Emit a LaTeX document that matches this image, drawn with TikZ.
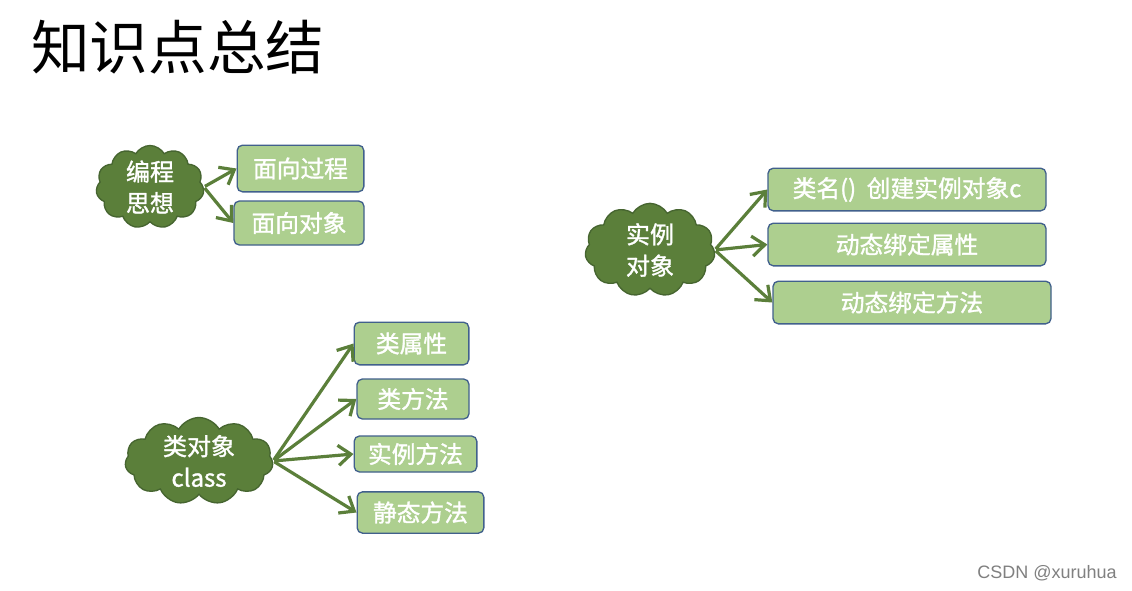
\documentclass[tikz,border=0pt]{standalone}
\usepackage{fontspec}
\setmainfont{Liberation Sans}
\newfontfamily\cjk{Noto Sans CJK SC}
\newfontfamily\cjkmed{Noto Sans CJK SC}[FakeBold=1.3]
\usetikzlibrary{shapes.symbols,arrows.meta}
\definecolor{cloudfill}{HTML}{5B7F3A}
\definecolor{cloudline}{HTML}{466530}
\definecolor{boxfill}{HTML}{ADCF8F}
\definecolor{boxline}{HTML}{41608C}
\definecolor{arrowgreen}{HTML}{5B7F3A}
\tikzset{
  idea/.style={cloud, cloud puffs=11, cloud puff arc=120, cloud ignores aspect,
    draw=cloudline, line width=1pt, fill=cloudfill, text=white,
    font=\cjkmed\fontsize{18pt}{23.5pt}\selectfont, align=center, inner sep=0pt},
  item/.style={draw=boxline, line width=1pt, fill=boxfill, rounded corners=4pt,
    text=white, font=\cjkmed\fontsize{17.8pt}{20pt}\selectfont, inner sep=0pt},
  link/.style={draw=arrowgreen, line width=2.4pt,
    -{Straight Barb[length=9.5pt,width=15pt,line width=2.4pt]}, shorten <=1pt},
}
\begin{document}
\begin{tikzpicture}[x=0.75pt,y=-0.75pt]
\fill[white] (0,0) rectangle (1132,590);
\useasboundingbox (0,0) rectangle (1132,590);

\node[font=\cjk\fontsize{44pt}{50pt}\selectfont, anchor=west, inner sep=0pt] (title) at (31,47) {知识点总结};

% group 1
\node[idea, minimum width=81pt, minimum height=62pt] (c1) at (150,187) {编程\\思想};
\node[item, minimum width=95pt, minimum height=35pt] (b11) at (300.5,168.5) {面向过程};
\node[item, minimum width=97.5pt, minimum height=33pt] (b12) at (299,223) {面向对象};
\draw[link] (c1.east) -- (b11.west);
\draw[link] (c1.east) -- (b12.west);

% group 2
\node[idea, minimum width=97.5pt, minimum height=70pt] (c2) at (650,250) {实例\\对象};
\node[item, minimum width=208.5pt, minimum height=32pt] (b21) at (907,189.5) {类名()\ \ 创建实例对象c};
\node[item, minimum width=208.5pt, minimum height=32pt] (b22) at (907,244.5) {动态绑定属性};
\node[item, minimum width=208.5pt, minimum height=32pt] (b23) at (912,302.5) {动态绑定方法};
\draw[link] (c2.east) -- (b21.west);
\draw[link] (c2.east) -- (b22.west);
\draw[link] (c2.east) -- (b23.west);

% group 3
\node[idea, minimum width=111pt, minimum height=65pt] (c3) at (199,461) {类对象\\class};
\node[item, minimum width=86pt, minimum height=32pt] (b31) at (411.5,343.5) {类属性};
\node[item, minimum width=84pt, minimum height=30pt] (b32) at (413,399) {类方法};
\node[item, minimum width=92pt, minimum height=27pt] (b33) at (415.5,454) {实例方法};
\node[item, minimum width=95pt, minimum height=31pt] (b34) at (420.5,512.5) {静态方法};
\draw[link] (c3.east) -- (b31.west);
\draw[link] (c3.east) -- (b32.west);
\draw[link] (c3.east) -- (b33.west);
\draw[link] (c3.east) -- (b34.west);

\node[font=\fontsize{13.5pt}{15pt}\selectfont, text=black!50, anchor=east, inner sep=0pt] (wm) at (1117,573) {CSDN @xuruhua};
\end{tikzpicture}
\end{document}
